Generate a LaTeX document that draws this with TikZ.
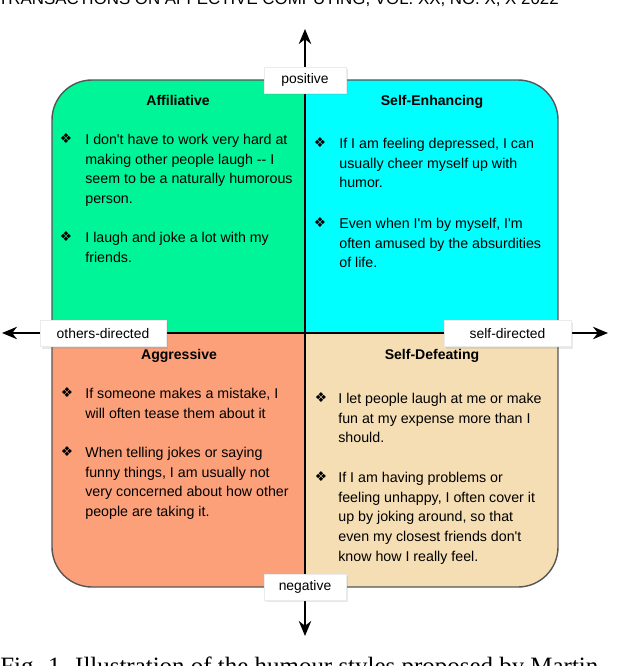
\documentclass[tikz,border=0pt]{standalone}
\usepackage{fontspec}
\setmainfont{Liberation Sans}
\newfontfamily\captionserif{Liberation Serif}
\newfontfamily\bulletfont{DejaVu Sans}
\usetikzlibrary{arrows.meta,shadows}

\definecolor{affilgreen}{RGB}{0,245,152}
\definecolor{enhancecyan}{RGB}{0,255,255}
\definecolor{aggrsalmon}{RGB}{252,160,122}
\definecolor{defeatwheat}{RGB}{245,222,179}
\definecolor{rimgray}{RGB}{85,85,85}

\tikzset{
  quadtitle/.style={anchor=base, inner sep=0pt, font=\fontsize{8pt}{9pt}\selectfont\bfseries},
  itemtext/.style={anchor=north west, inner sep=0pt, align=left, font=\fontsize{8.1pt}{11.17pt}\selectfont},
  itembullet/.style={inner sep=0pt, font=\bulletfont\fontsize{7.8pt}{8pt}\selectfont},
  axislabel/.style={fill=white, draw=black!8, inner sep=0pt, minimum height=0.52cm,
    font=\fontsize{7.9pt}{9pt}\selectfont,
    drop shadow={shadow xshift=1.2pt, shadow yshift=-1.2pt, opacity=0.18}},
  axisarrow/.style={line width=1.3pt,
    {Stealth[length=8.5pt,width=7pt,inset=2.7pt]}-{Stealth[length=8.5pt,width=7pt,inset=2.7pt]}}
}

\begin{document}
\begin{tikzpicture}[x=0.02cm,y=-0.02cm]
			\useasboundingbox (0,0) rectangle (640,666);
			
			%%%%% page text, cut by the edge %%%%%
			\node[anchor=base east, inner sep=0pt, font=\fontsize{9.6pt}{10pt}\selectfont] (header) at (559,4.5) {TRANSACTIONS ON AFFECTIVE COMPUTING, VOL. XX, NO. X, X 2022};
			\node[anchor=base west, inner sep=0pt, font=\captionserif\fontsize{14.2pt}{16pt}\selectfont] (caption) at (0,674.5) {Fig. 1. Illustration of the humour styles proposed by Martin};
			
			%%%%% quadrants %%%%%
			\begin{scope}
				\clip[rounded corners=0.8cm] (52,80) rectangle (558,587);
				\fill[affilgreen] (52,80) rectangle (305,333);
				\fill[enhancecyan] (305,80) rectangle (558,333);
				\fill[aggrsalmon] (52,333) rectangle (305,587);
				\fill[defeatwheat] (305,333) rectangle (558,587);
			\end{scope}
			\draw[rimgray, line width=0.8pt, rounded corners=0.8cm] (52,80) rectangle (558,587);
			
			%%%%% axes %%%%%
			\coordinate (uptip) at (305,29);
			\coordinate (downtip) at (305,636);
			\coordinate (lefttip) at (2,333);
			\coordinate (righttip) at (608,333);
			\draw[axisarrow] (uptip) -- (downtip);
			\draw[axisarrow] (lefttip) -- (righttip);
			
			\node[axislabel, minimum width=1.64cm] (positive) at (305,80) {positive};
			\node[axislabel, minimum width=1.64cm] (negative) at (305,587) {negative};
			\node[axislabel, minimum width=2.52cm] (others) at (103,333.5) {others-directed};
			\node[axislabel, minimum width=2.54cm] (self) at (507.5,333.5) {self-directed};
			
			%%%%% Affiliative %%%%%
			\node[quadtitle] (affil) at (178,105) {Affiliative};
			\node[itembullet] (affilbul1) at (66,139) {❖};
			\node[itemtext] (affiltxt1) at (85,134) {I don\textquotesingle t have to work very hard at\\making other people laugh -{}- I\\seem to be a naturally humorous\\person.};
			\node[itembullet] (affilbul2) at (66,237) {❖};
			\node[itemtext] (affiltxt2) at (85,232) {I laugh and joke a lot with my\\friends.};
			
			%%%%% Self-Enhancing %%%%%
			\node[quadtitle] (enhance) at (432,105) {Self-Enhancing};
			\node[itembullet] (enhancebul1) at (320,143) {❖};
			\node[itemtext] (enhancetxt1) at (339,138) {If I am feeling depressed, I can\\usually cheer myself up with\\humor.};
			\node[itembullet] (enhancebul2) at (320,223) {❖};
			\node[itemtext] (enhancetxt2) at (339,218) {Even when I\textquotesingle m by myself, I\textquotesingle m\\often amused by the absurdities\\of life.};
			
			%%%%% Aggressive %%%%%
			\node[quadtitle] (aggr) at (179,359) {Aggressive};
			\node[itembullet] (aggrbul1) at (67,393) {❖};
			\node[itemtext] (aggrtxt1) at (85,388) {If someone makes a mistake, I\\will often tease them about it};
			\node[itembullet] (aggrbul2) at (67,452) {❖};
			\node[itemtext] (aggrtxt2) at (85,447) {When telling jokes or saying\\funny things, I am usually not\\very concerned about how other\\people are taking it.};
			
			%%%%% Self-Defeating %%%%%
			\node[quadtitle] (defeat) at (432,359) {Self-Defeating};
			\node[itembullet] (defeatbul1) at (321,398) {❖};
			\node[itemtext] (defeattxt1) at (338,393) {I let people laugh at me or make\\fun at my expense more than I\\should.};
			\node[itembullet] (defeatbul2) at (321,477) {❖};
			\node[itemtext] (defeattxt2) at (338,472) {If I am having problems or\\feeling unhappy, I often cover it\\up by joking around, so that\\even my closest friends don\textquotesingle t\\know how I really feel.};
			
\end{tikzpicture}
\end{document}
